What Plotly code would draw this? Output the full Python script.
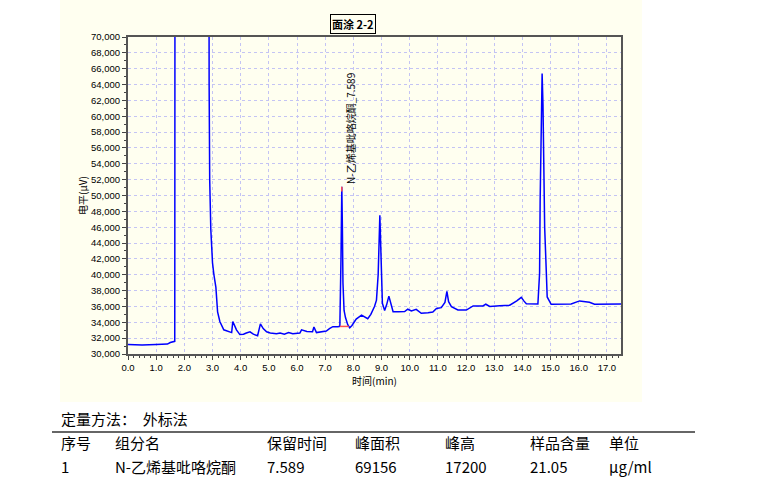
import plotly.graph_objects as go

# ---------------- data ----------------
time_min = [0.0, 0.5, 1.0, 1.4, 1.5, 1.62, 1.66, 1.68, 2.85, 2.88, 2.90, 2.94, 3.00, 3.05, 3.12,
            3.18, 3.26, 3.40, 3.55, 3.68, 3.72, 3.78, 3.85, 3.97, 4.10, 4.20, 4.33, 4.45, 4.60,
            4.70, 4.80, 4.92, 5.05, 5.27, 5.40, 5.55, 5.70, 5.85, 6.00, 6.10, 6.16, 6.35, 6.55,
            6.60, 6.69, 6.85, 7.04, 7.15, 7.27, 7.45, 7.52, 7.56, 7.59, 7.61, 7.63, 7.67, 7.72,
            7.80, 7.87, 7.95, 8.10, 8.29, 8.40, 8.51, 8.62, 8.75, 8.82, 8.88, 8.94, 8.97, 9.00,
            9.03, 9.11, 9.18, 9.26, 9.33, 9.41, 9.60, 9.82, 9.93, 10.06, 10.23, 10.41, 10.65,
            10.82, 10.95, 11.12, 11.25, 11.32, 11.38, 11.48, 11.71, 12.01, 12.25, 12.60, 12.70,
            12.84, 13.20, 13.55, 13.80, 13.96, 14.05, 14.14, 14.55, 14.61, 14.63, 14.67, 14.70,
            14.73, 14.76, 14.79, 14.85, 14.88, 15.02, 15.40, 15.73, 16.03, 16.38, 16.56, 17.00,
            17.50]
signal_uv = [31200, 31150, 31200, 31250, 31450, 31550, 31600, 160000, 160000, 64000, 52000, 45700,
             41500, 40000, 38400, 35300, 34100, 33050, 32900, 32700, 34100, 33500, 33050, 32450,
             32500, 32650, 32800, 32500, 32300, 33800, 33200, 32800, 32650, 32550, 32650, 32500,
             32700, 32550, 32650, 32650, 33050, 32850, 32800, 33400, 32700, 32800, 32900, 33200,
             33450, 33450, 33500, 42000, 51100, 46000, 39000, 35500, 34600, 33700, 33300, 33600,
             34400, 34900, 34700, 34450, 35000, 36000, 36800, 40000, 47500, 43300, 39000, 36400,
             35500, 36200, 37300, 36300, 35340, 35340, 35350, 35650, 35440, 35640, 35130, 35200,
             35300, 35750, 35850, 36500, 37900, 36600, 35970, 35550, 35550, 36060, 36060, 36280,
             36000, 36080, 36150, 36700, 37150, 36700, 36350, 36300, 40180, 49400, 62000, 65400,
             61500, 55700, 46000, 40200, 37200, 36270, 36280, 36300, 36700, 36520, 36280, 36300,
             36320]

peak_name = "N-乙烯基吡咯烷酮"
peak_rt = 7.589
peak_top = 51100
peak_base_t = [7.52, 7.84]
peak_base_v = [33480, 33480]
peak_mark_v = [50500, 51100]

x_ticks = [float(i) for i in range(0, 18)]
x_ticklabels = [f"{v:.1f}" for v in x_ticks]
y_ticks = list(range(30000, 70001, 2000))
y_ticklabels = [f"{v:,}" for v in y_ticks]

title_text = "面涂 2-2"
method_text = "定量方法：  外标法"
table_header = ["序号", "组分名", "保留时间", "峰面积", "峰高", "样品含量", "单位"]
table_row = ["1", "N-乙烯基吡咯烷酮", "7.589", "69156", "17200", "21.05", "μg/ml"]

# ---------------- layout helpers ----------------
W, H = 760, 491
L, R, T, B = 128, 621, 37, 354
PW, PH = R - L, B - T

def pxx(px):
    return (px - L) / PW

def pxy(py):
    return (B - py) / PH

CREAM = "#FFFFF0"
CJK = "Noto Sans CJK SC"
LAT = "Liberation Sans"

fig = go.Figure()
fig.add_trace(go.Scatter(x=time_min, y=signal_uv, mode="lines",
                         line=dict(color="#0000FF", width=1.5), hoverinfo="skip"))
fig.add_trace(go.Scatter(x=peak_base_t, y=peak_base_v, mode="lines",
                         line=dict(color="#FF5050", width=1.5), hoverinfo="skip"))
fig.add_trace(go.Scatter(x=[peak_rt, peak_rt], y=peak_mark_v, mode="lines",
                         line=dict(color="#FF5050", width=1.5), hoverinfo="skip"))

axis_common = dict(
    showline=True, linecolor="#555555", linewidth=2, mirror=True,
    ticks="outside", ticklen=4, tickcolor="#444444", tickwidth=1,
    showgrid=True, gridcolor="#C4C4F4", gridwidth=1, griddash="dot",
    zeroline=False, tickfont=dict(family=LAT, size=9.5, color="#000000"),
)

fig.update_xaxes(range=[0, 17.5], tickvals=x_ticks, ticktext=x_ticklabels,
                 minor=dict(dtick=0.2, ticks="outside", ticklen=2, tickcolor="#444444",
                            showgrid=False),
                 **axis_common)
fig.update_yaxes(range=[30000, 70000], tickvals=y_ticks, ticktext=y_ticklabels,
                 minor=dict(dtick=1000, ticks="outside", ticklen=2, tickcolor="#444444",
                            showgrid=False),
                 **axis_common)

shapes = [
    dict(type="rect", xref="paper", yref="paper", x0=pxx(60), x1=pxx(642),
         y0=pxy(402), y1=pxy(0), fillcolor=CREAM, line=dict(width=0), layer="below"),
    dict(type="line", xref="paper", yref="paper", x0=pxx(52), x1=pxx(695),
         y0=pxy(432), y1=pxy(432), line=dict(color="#333333", width=1.5)),
]

annotations = [
    dict(text=f"<b>{title_text}</b>", xref="paper", yref="paper", x=pxx(353), y=pxy(24),
         xanchor="center", yanchor="middle", showarrow=False,
         font=dict(family=CJK, size=11, color="#000000"),
         bordercolor="#000000", borderwidth=1, borderpad=1, bgcolor=CREAM),
    dict(text=f"{peak_name}_{peak_rt}", x=peak_rt, y=peak_top, xref="x", yref="y",
         xanchor="center", yanchor="bottom", textangle=-90, showarrow=False,
         xshift=8, yshift=1, font=dict(family=CJK, size=10, color="#000000")),
    dict(text="电平(μV)", xref="paper", yref="paper", x=pxx(82), y=pxy(196),
         xanchor="center", yanchor="middle", textangle=-90, showarrow=False,
         font=dict(family=CJK, size=10, color="#000000")),
    dict(text="时间(min)", xref="paper", yref="paper", x=pxx(374), y=pxy(380),
         xanchor="center", yanchor="middle", showarrow=False,
         font=dict(family=CJK, size=10, color="#000000")),
    dict(text=method_text, xref="paper", yref="paper", x=pxx(59), y=pxy(418),
         xanchor="left", yanchor="middle", showarrow=False,
         font=dict(family=CJK, size=15, color="#000000")),
]

col_x = [59, 113, 265, 353, 443, 528, 607]
for cx, h, r in zip(col_x, table_header, table_row):
    annotations.append(dict(text=h, xref="paper", yref="paper", x=pxx(cx), y=pxy(442),
                            xanchor="left", yanchor="middle", showarrow=False,
                            font=dict(family=CJK, size=15, color="#000000")))
    annotations.append(dict(text=r, xref="paper", yref="paper", x=pxx(cx), y=pxy(466),
                            xanchor="left", yanchor="middle", showarrow=False,
                            font=dict(family=CJK, size=15, color="#000000")))

fig.update_layout(
    width=W, height=H, autosize=False,
    margin=dict(l=L, r=W - R, t=T, b=H - B, pad=0),
    paper_bgcolor="#FFFFFF", plot_bgcolor=CREAM,
    showlegend=False, shapes=shapes, annotations=annotations,
)

fig.write_html("out.html")
